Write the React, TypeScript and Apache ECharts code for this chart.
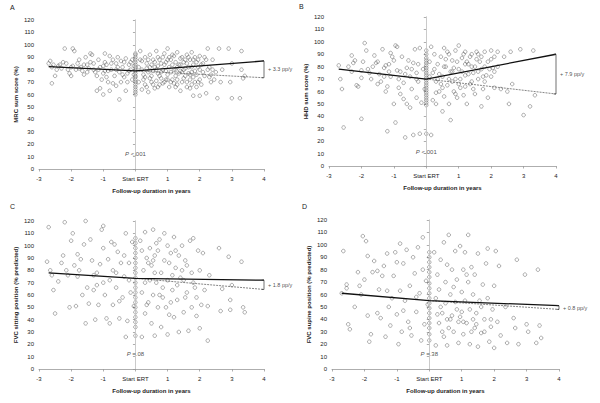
import React, { useEffect, useRef } from "react";
import * as echarts from "echarts";

const xTicks = [-3, -2, -1, 0, 1, 2, 3, 4];
const zeroLabel = "Start ERT";
const xTitle = "Follow-up duration in years";
const panelLetters = ["A", "B", "C", "D"];
const yTitles = ["MRC sum score (%)", "HHD sum score (%)", "FVC sitting position (% predicted)", "FVC supine position (% predicted)"];
const slopeLabels = ["+ 3.3 pp/y", "+ 7.9 pp/y", "+ 1.8 pp/y", "+ 0.8 pp/y"];
const pLabels = ["<.001", "<.001", "=.08", "=.38"];
const pLabelY = [12, 11, 12, 12];

const solidA = [[-2.7, 82.5], [0, 79], [4, 87]];
const dashA = [[0, 79], [4, 73.5]];
const solidB = [[-2.7, 78], [0, 70], [4, 90]];
const dashB = [[0, 70], [4, 58]];
const solidC = [[-2.7, 78], [0, 73.5], [4, 72]];
const dashC = [[0, 73.5], [4, 64.5]];
const solidD = [[-2.7, 61], [0, 55], [4, 51]];
const dashD = [[0, 55], [4, 48]];

const pointsA = [
  [-2.7,85],[-2.65,87],[-2.6,82],[-2.55,84],[-2.6,69],[-2.5,75],[-2.4,83],[-2.3,81],[-2.25,86],[-2.2,97],[-2.15,85],[-2.1,80],[-2.05,77],[-2.0,75],[-1.95,83],[-1.9,95],[-1.95,97],[-1.85,80],[-1.8,85],[-1.75,88],[-1.7,82],[-1.65,79],[-1.6,84],[-1.55,90],[-1.5,78],[-1.45,81],[-1.4,93],[-1.35,92],[-1.3,85],[-1.25,78],[-1.2,75],[-1.2,63],[-1.15,88],[-1.1,65],[-1.1,82],[-1.05,72],[-1.0,60],[-1.0,77],[-0.95,93],[-0.95,86],[-0.9,84],[-0.9,74],[-0.85,70],[-0.8,91],[-0.8,63],[-0.75,80],[-0.7,69],[-0.7,88],[-0.65,75],[-0.6,85],[-0.6,67],[-0.55,90],[-0.5,56],[-0.5,78],[-0.45,70],[-0.45,87],[-0.4,82],[-0.35,74],[-0.3,63],[-0.3,89],[-0.25,77],[-0.2,84],[-0.15,80],[-0.1,72],[-0.1,88],[-0.05,83],
  [0,60],[0,62],[0,64],[0,66],[0,68],[0,70],[0,72],[0,74],[0,75],[0,77],[0,79],[0,80],[0,82],[0,84],[0,86],[0,88],[0,90],[0,92],[0,93],
  [0.15,95],[0.2,64],[0.2,80],[0.25,72],[0.3,90],[0.3,68],[0.35,85],[0.4,78],[0.4,62],[0.45,92],[0.5,75],[0.5,70],[0.55,88],[0.6,82],[0.6,65],[0.65,95],[0.7,77],[0.7,90],[0.75,68],[0.8,85],[0.8,73],[0.85,80],[0.9,93],[0.9,70],[0.95,86],[1.0,97],[1.0,76],[1.05,82],[1.05,66],[1.1,88],[1.15,72],[1.2,91],[1.2,80],[1.25,75],[1.3,94],[1.3,68],[1.35,84],[1.4,79],[1.4,63],[1.45,90],[1.5,73],[1.5,86],[1.55,81],[1.6,92],[1.6,70],[1.65,77],[1.7,88],[1.7,65],[1.75,94],[1.75,82],[1.8,59],[1.8,74],[1.85,79],[1.9,86],[1.95,70],[2.0,59],[2.0,91],[2.0,80],[2.05,68],[2.1,85],[2.15,75],[2.2,61],[2.25,97],[2.3,82],[2.35,70],[2.4,88],[2.5,78],[2.55,57],[2.6,97],[2.65,70],[2.7,80],[2.9,97],[2.95,70],[3.0,57],[3.0,85],[3.25,57],[3.3,95],[3.3,80],[3.35,73],[3.4,75],
  [-2.0,82],[-1.75,81],[-1.5,84],[-1.3,80],[-1.0,83],[-0.85,79],[-0.6,80],[-0.4,76],[-0.2,79],[0.1,82],[0.2,87],[0.25,76],[0.35,81],[0.4,88],[0.45,73],[0.55,79],[0.6,86],[0.65,71],[0.7,83],[0.75,88],[0.8,78],[0.85,69],[0.9,84],[0.95,79],[1.0,72],[1.0,88],[1.1,78],[1.15,84],[1.2,69],[1.25,86],[1.3,82],[1.35,77],[1.4,89],[1.45,70],[1.5,80],[1.55,75],[1.6,85],[1.65,90],[1.7,72],[1.75,78],[1.8,84],[1.85,90],[1.9,76],[1.95,82],[2.0,72],[2.1,78],[2.2,88],[2.3,74],[2.4,80],
  [-2.45,80],[-2.35,84],[-1.6,76],[-1.4,86],[-1.15,80],[-0.95,79],[-0.75,85],[-0.55,82],[-0.35,86],[-0.25,70],[-0.15,86],[-0.05,76],[0.1,70],[0.15,88],[0.3,74],[0.35,66],[0.5,84],[0.55,68],[0.65,80],[0.75,75],[0.85,90],[0.95,72],[1.05,90],[1.1,70],[1.15,92],[1.25,80],[1.3,72],[1.4,84],[1.45,78],[1.55,88],[1.65,82],[1.7,76],[1.8,88],[1.85,70],[1.95,88],[2.05,84],[2.15,90],[2.25,80],[2.35,76],[2.45,72],[1.75,68],[1.25,66],[0.7,66],[0.45,82],[1.6,66],[1.9,66]
];

const pointsB = [
  [-2.7,81],[-2.65,70],[-2.6,62],[-2.55,31],[-2.4,80],[-2.3,89],[-2.25,83],[-2.2,85],[-2.15,65],[-2.1,64],[-2.0,77],[-2.0,71],[-2.0,38],[-1.95,84],[-1.9,99],[-1.85,93],[-1.75,75],[-1.7,70],[-1.6,89],[-1.55,83],[-1.5,84],[-1.45,74],[-1.4,68],[-1.35,94],[-1.3,79],[-1.25,81],[-1.25,60],[-1.2,28],[-1.2,64],[-1.15,82],[-1.1,91],[-1.1,72],[-1.05,88],[-1.0,85],[-1.0,50],[-0.95,97],[-0.95,35],[-0.9,77],[-0.9,96],[-0.85,63],[-0.8,58],[-0.75,88],[-0.7,67],[-0.7,54],[-0.65,23],[-0.6,79],[-0.6,50],[-0.55,85],[-0.5,47],[-0.5,72],[-0.45,62],[-0.4,83],[-0.4,25],[-0.35,94],[-0.3,75],[-0.3,55],[-0.25,68],[-0.2,95],[-0.2,26],[-0.15,51],[-0.1,78],[-0.05,62],
  [0,49],[0,51],[0,53],[0,55],[0,57],[0,59],[0,61],[0,63],[0,65],[0,67],[0,69],[0,71],[0,73],[0,75],[0,77],[0,79],[0,81],[0,83],[0,85],[0,87],[0,90],[0,93],[0,26],
  [0.15,25],[0.15,96],[0.2,53],[0.2,75],[0.25,90],[0.3,68],[0.3,50],[0.35,82],[0.4,60],[0.45,88],[0.5,72],[0.5,44],[0.55,95],[0.55,56],[0.6,80],[0.65,65],[0.7,90],[0.7,50],[0.75,37],[0.75,76],[0.8,85],[0.85,60],[0.9,93],[0.9,70],[0.95,55],[1.0,97],[1.0,78],[1.05,63],[1.1,87],[1.15,57],[1.2,92],[1.2,73],[1.25,50],[1.3,82],[1.35,66],[1.4,90],[1.45,75],[1.5,58],[1.55,92],[1.6,70],[1.65,84],[1.7,48],[1.7,78],[1.75,62],[1.8,92],[1.85,73],[1.9,55],[2.0,86],[2.0,93],[2.05,79],[2.1,63],[2.2,92],[2.3,62],[2.4,88],[2.5,60],[2.55,50],[2.6,92],[2.65,66],[2.9,94],[3.0,41],[3.2,48],[3.3,93],[3.35,57],
  [-1.8,78],[-1.3,72],[-0.8,76],[-0.3,70],[0.1,72],[0.25,78],[0.4,74],[0.45,66],[0.6,86],[0.65,92],[0.8,68],[0.85,79],[0.95,84],[1.05,70],[1.1,76],[1.15,90],[1.25,84],[1.3,74],[1.35,88],[1.4,68],[1.5,80],[1.55,86],[1.6,76],[1.7,88],[1.8,80],[1.9,84],[2.0,72],[2.1,76],[2.2,80],[0.3,59],[0.5,63],[0.9,58],[1.2,64],[1.45,62],[1.8,68],
  [-2.3,76],[-1.65,80],[-1.5,66],[-1.15,76],[-0.85,70],[-0.65,74],[-0.45,78],[-0.25,82],[0.1,84],[0.35,70],[0.55,80],[0.7,70],[0.8,76],[1.0,66],[1.2,82],[1.4,80],[1.6,90],[1.75,72],[1.95,78],[2.1,88]
];

const pointsC = [
  [-2.75,87],[-2.7,115],[-2.65,80],[-2.6,76],[-2.55,64],[-2.5,45],[-2.4,71],[-2.3,86],[-2.25,92],[-2.2,119],[-2.15,80],[-2.1,76],[-2.05,50],[-2.0,104],[-1.95,110],[-1.9,84],[-1.85,51],[-1.8,93],[-1.75,80],[-1.7,89],[-1.65,60],[-1.6,101],[-1.55,120],[-1.55,37],[-1.5,66],[-1.45,53],[-1.4,105],[-1.35,88],[-1.3,76],[-1.3,64],[-1.25,40],[-1.2,78],[-1.15,52],[-1.1,85],[-1.05,113],[-1.0,116],[-1.0,98],[-1.0,70],[-0.95,60],[-0.9,41],[-0.85,89],[-0.8,37],[-0.75,103],[-0.7,80],[-0.7,52],[-0.65,101],[-0.6,66],[-0.55,95],[-0.5,41],[-0.45,86],[-0.4,58],[-0.35,75],[-0.3,26],[-0.3,110],[-0.25,39],[-0.2,86],[-0.15,62],[-0.1,103],[-0.05,51],[-0.35,92],[-0.6,78],[-0.8,72],[-1.2,68],[-1.8,75],[-0.5,55],[-0.2,72],
  [0,27],[0,34],[0,38],[0,42],[0,46],[0,50],[0,54],[0,58],[0,62],[0,66],[0,70],[0,74],[0,78],[0,82],[0,86],[0,90],[0,94],[0,98],[0,102],[0,106],
  [0.15,104],[0.2,26],[0.2,62],[0.25,80],[0.3,111],[0.3,45],[0.35,90],[0.4,54],[0.45,98],[0.45,72],[0.5,37],[0.5,84],[0.55,113],[0.55,60],[0.6,27],[0.6,92],[0.65,70],[0.7,50],[0.75,105],[0.8,34],[0.8,78],[0.85,58],[0.9,110],[0.9,88],[0.95,50],[1.0,28],[1.0,72],[1.0,100],[1.05,44],[1.1,94],[1.15,64],[1.2,42],[1.2,107],[1.25,82],[1.3,56],[1.35,30],[1.4,74],[1.45,100],[1.5,46],[1.55,88],[1.6,62],[1.65,31],[1.7,104],[1.75,78],[1.75,50],[1.8,106],[1.85,66],[1.9,43],[1.95,96],[2.0,33],[2.0,80],[2.05,52],[2.1,94],[2.15,64],[2.25,23],[2.25,51],[2.3,76],[2.6,98],[2.65,47],[2.7,65],[2.9,91],[2.95,56],[2.95,48],[3.3,87],[3.35,50],[3.4,46],[3.0,68],
  [0.3,70],[0.4,86],[0.6,78],[0.7,96],[0.85,66],[1.05,86],[1.15,76],[1.3,68],[1.35,92],[1.5,72],[1.6,84],[1.8,70],[1.9,58],[0.2,96],[0.35,52],[0.75,60],[1.1,54],[1.55,58],[0.65,102],[1.25,96],[0.55,88],[1.45,80]
];

const pointsD = [
  [-2.7,61],[-2.65,95],[-2.55,68],[-2.55,65],[-2.5,36],[-2.45,32],[-2.3,50],[-2.2,78],[-2.15,67],[-2.1,60],[-2.05,107],[-2.0,72],[-1.95,103],[-1.9,91],[-1.9,43],[-1.85,22],[-1.8,28],[-1.75,78],[-1.7,87],[-1.6,79],[-1.55,64],[-1.5,41],[-1.45,75],[-1.4,83],[-1.35,26],[-1.3,93],[-1.3,63],[-1.25,50],[-1.2,35],[-1.15,57],[-1.1,75],[-1.05,94],[-1.0,86],[-1.0,44],[-0.95,20],[-0.9,101],[-0.9,63],[-0.85,30],[-0.8,85],[-0.75,55],[-0.7,96],[-0.65,38],[-0.6,67],[-0.55,27],[-0.5,90],[-0.45,77],[-0.4,46],[-0.35,98],[-0.3,61],[-0.25,23],[-0.2,106],[-0.2,80],[-0.15,36],[-0.1,71],[-0.05,52],[-0.8,47],[-0.4,58],[-1.6,45],[-0.6,33],
  [0,23],[0,28],[0,33],[0,37],[0,41],[0,45],[0,49],[0,53],[0,57],[0,61],[0,65],[0,69],[0,74],[0,78],[0,82],[0,86],[0,90],[0,94],
  [0.15,94],[0.2,19],[0.2,57],[0.25,76],[0.3,37],[0.3,64],[0.35,88],[0.4,45],[0.45,102],[0.45,26],[0.5,70],[0.5,53],[0.55,84],[0.55,19],[0.6,33],[0.6,108],[0.65,60],[0.7,43],[0.7,80],[0.75,30],[0.8,95],[0.8,54],[0.85,72],[0.9,21],[0.9,38],[0.95,99],[1.0,62],[1.0,46],[1.05,80],[1.05,28],[1.1,94],[1.1,55],[1.15,37],[1.2,108],[1.2,70],[1.25,20],[1.25,48],[1.3,82],[1.35,60],[1.4,33],[1.4,76],[1.45,45],[1.5,93],[1.5,18],[1.55,55],[1.6,29],[1.65,68],[1.7,40],[1.75,85],[1.8,97],[1.8,57],[1.85,22],[1.9,34],[1.95,48],[2.0,17],[2.0,67],[2.05,95],[2.1,38],[2.15,83],[2.2,27],[2.35,50],[2.4,21],[2.6,41],[2.65,33],[2.7,88],[2.75,20],[2.95,76],[3.0,36],[3.05,30],[3.3,21],[3.35,80],[3.4,35],[3.45,25],
  [0.35,50],[0.65,40],[0.75,66],[0.95,42],[1.15,76],[1.35,40],[1.6,50],[1.9,40],[0.4,30],[0.85,48],[1.3,30],[1.7,30],[0.55,40],[1.05,38],[0.25,44],[1.45,36]
];

const panels = [
  { pts: pointsA, solid: solidA, dash: dashA },
  { pts: pointsB, solid: solidB, dash: dashB },
  { pts: pointsC, solid: solidC, dash: dashC },
  { pts: pointsD, solid: solidD, dash: dashD },
];

const grids = [
  { left: 39, top: 20, width: 225, height: 149 },
  { left: 329, top: 17, width: 227, height: 149 },
  { left: 39, top: 221, width: 225, height: 148 },
  { left: 332, top: 220, width: 227, height: 149 },
];
const letterPos = [[10, 4], [299, 3], [10, 203], [302, 203]];

const FONT = "'Liberation Sans', Arial, sans-serif";
const TXT = "#222";

export default function App() {
  const ref = useRef<HTMLDivElement>(null);
  useEffect(() => {
    document.body.style.margin = "0";
    const chart = echarts.init(ref.current!, null, { renderer: "svg" });
    const xAxis: any[] = [];
    const yAxis: any[] = [];
    const series: any[] = [];
    panels.forEach((p, i) => {
      xAxis.push({
        type: "value", gridIndex: i, min: -3, max: 4, interval: 1,
        name: xTitle, nameLocation: "middle", nameGap: 19,
        nameTextStyle: { fontSize: 6, color: TXT, fontFamily: FONT, fontWeight: "bold" },
        axisLine: { show: true, onZero: false, lineStyle: { color: "#999", width: 0.8 } },
        axisTick: { show: true, length: 2.5, lineStyle: { color: "#999", width: 0.8 } },
        axisLabel: {
          fontSize: 6, color: TXT, fontFamily: FONT, margin: 7,
          formatter: (v: number) => (v === 0 ? zeroLabel : String(v)),
        },
        splitLine: { show: false },
      });
      yAxis.push({
        type: "value", gridIndex: i, min: 0, max: 120, interval: 10,
        name: yTitles[i], nameLocation: "middle", nameGap: 20,
        nameTextStyle: { fontSize: 6, color: TXT, fontFamily: FONT, fontWeight: "bold" },
        axisLine: { show: true, lineStyle: { color: "#999", width: 0.8 } },
        axisTick: { show: true, length: 2.5, lineStyle: { color: "#999", width: 0.8 } },
        axisLabel: { fontSize: 6, color: TXT, fontFamily: FONT, margin: 5 },
        splitLine: { show: false },
      });
      const end = p.solid[p.solid.length - 1];
      const dEnd = p.dash[p.dash.length - 1];
      series.push({
        type: "scatter", xAxisIndex: i, yAxisIndex: i, data: p.pts,
        symbol: "circle", symbolSize: 3.6,
        itemStyle: { color: "rgba(255,255,255,0)", borderColor: "#555", borderWidth: 0.6 },
        markLine: {
          silent: true, symbol: "none", label: { show: false },
          lineStyle: { color: "#d0d0d0", type: "solid", width: 0.8 },
          data: [{ xAxis: 0 }],
        },
        z: 2,
      });
      series.push({
        type: "line", xAxisIndex: i, yAxisIndex: i, data: p.dash,
        showSymbol: false, lineStyle: { color: "#666", width: 0.8, type: [2, 1] }, z: 4,
      });
      series.push({
        type: "line", xAxisIndex: i, yAxisIndex: i, data: p.solid,
        showSymbol: false, lineStyle: { color: "#111", width: 1.3 }, z: 5,
      });
      series.push({
        type: "line", xAxisIndex: i, yAxisIndex: i,
        data: [[3.93, end[1]], [4, end[1]], [4, dEnd[1]], [3.93, dEnd[1]]],
        showSymbol: false, lineStyle: { color: "#333", width: 0.7 }, z: 5,
      });
      series.push({
        type: "scatter", xAxisIndex: i, yAxisIndex: i,
        data: [[4, (end[1] + dEnd[1]) / 2]], symbolSize: 0, silent: true,
        label: { show: true, position: "right", distance: 4, formatter: slopeLabels[i], fontSize: 5.5, color: TXT, fontFamily: FONT },
        z: 6,
      });
      series.push({
        type: "scatter", xAxisIndex: i, yAxisIndex: i,
        data: [[0, pLabelY[i]]], symbolSize: 0, silent: true,
        label: {
          show: true, position: "inside", fontSize: 6, color: TXT, fontFamily: FONT,
          formatter: "{i|P} " + pLabels[i],
          rich: { i: { fontStyle: "italic", fontSize: 6, color: TXT, fontFamily: FONT } },
        },
        z: 6,
      });
    });
    chart.setOption({
      animation: false,
      backgroundColor: "#fff",
      textStyle: { fontFamily: FONT },
      grid: grids,
      xAxis, yAxis, series,
      graphic: panelLetters.map((t, i) => ({
        type: "text", left: letterPos[i][0], top: letterPos[i][1],
        style: { text: t, fontSize: 7, fill: TXT, fontFamily: FONT },
      })),
    });
    return () => chart.dispose();
  }, []);
  return <div ref={ref} style={{ width: 600, height: 403 }} />;
}
